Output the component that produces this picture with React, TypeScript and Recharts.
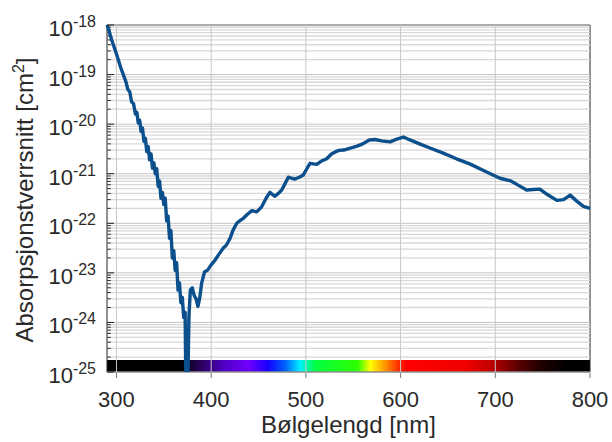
import { LineChart, Line, XAxis, YAxis, ReferenceLine, ReferenceArea } from "recharts";

// ── data ────────────────────────────────────────────────
const wavelengths = [
  290, 295, 300, 305, 310, 312, 314, 316, 318, 320, 321.5, 323, 324.5, 326, 327.5,
  329, 330.5, 332, 333.5, 335, 336.5, 338, 339.5, 341, 342.5, 344, 345.5, 347, 348.5,
  350, 351.5, 353, 354.5, 356, 357.5, 359, 360.5, 362, 363.5, 365, 366.5, 368, 369.5,
  371, 372.5, 373.5, 375, 376.5, 378, 380, 382, 384, 386, 388, 390, 393, 396, 400,
  404, 409, 413, 416, 420, 423, 427, 430, 434, 438, 443, 448, 453, 458, 462, 467,
  471, 474.5, 478, 481.5, 485, 488.6, 493, 497, 501, 504.4, 508, 511.4, 516, 522,
  527, 531, 535, 540, 547, 554, 560, 567, 573, 580, 589, 596, 603, 610, 620, 631,
  645, 659, 673, 687, 697, 705, 716, 725, 733, 740, 747, 755, 765, 772, 779, 786,
  793, 800,
];

const crossSections = [
  1.05e-18, 5.0e-19, 2.6e-19, 1.3e-19, 7.1e-20, 5.0e-20, 4.5e-20, 2.8e-20, 2.6e-20,
  1.6e-20, 1.74e-20, 1.05e-20, 1.2e-20, 7.1e-21, 8.3e-21, 4.5e-21, 5.2e-21, 2.8e-21,
  3.5e-21, 1.9e-21, 2.5e-21, 1.3e-21, 1.66e-21, 1.0e-21, 1.26e-21, 5.6e-22, 7.1e-22,
  3.2e-22, 4.2e-22, 2.4e-22, 3.2e-22, 1.12e-22, 1.4e-22, 5.0e-23, 7.1e-23, 2.0e-23,
  2.8e-23, 1.12e-23, 1.6e-23, 4.5e-24, 6.3e-24, 2.5e-24, 3.2e-24, 1.26e-24, 1.6e-24,
  2.5e-26, 2.5e-26, 1.3e-24, 4.5e-24, 5.0e-24, 3.5e-24, 3.0e-24, 2.1e-24, 3.2e-24,
  6.3e-24, 1.05e-23, 1.12e-23, 1.45e-23, 1.8e-23, 2.5e-23, 3.2e-23, 3.6e-23, 5.0e-23,
  7.2e-23, 1.0e-22, 1.12e-22, 1.26e-22, 1.5e-22, 1.8e-22, 1.7e-22, 2.1e-22, 3.2e-22,
  4.2e-22, 3.5e-22, 4.0e-22, 4.7e-22, 6.3e-22, 8.5e-22, 8.1e-22, 7.8e-22, 8.5e-22,
  9.3e-22, 1.26e-21, 1.62e-21, 1.58e-21, 1.55e-21, 1.78e-21, 2.0e-21, 2.5e-21,
  2.75e-21, 2.95e-21, 3.0e-21, 3.3e-21, 3.6e-21, 4.0e-21, 4.8e-21, 4.9e-21, 4.6e-21,
  4.4e-21, 5.0e-21, 5.5e-21, 4.8e-21, 4.0e-21, 3.3e-21, 2.6e-21, 2.0e-21, 1.58e-21,
  1.17e-21, 9.5e-22, 8.1e-22, 7.2e-22, 5.75e-22, 4.7e-22, 4.8e-22, 4.9e-22, 3.8e-22,
  2.9e-22, 3.0e-22, 3.7e-22, 2.8e-22, 2.2e-22, 2.0e-22,
];

const xTicks = [300, 400, 500, 600, 700, 800];
const xGridLines = [300, 400, 500, 600, 700];
const decadeExponents = [-25, -24, -23, -22, -21, -20, -19, -18];
const minorMultipliers = [2, 3, 4, 5, 6, 7, 8, 9];

// visible spectrum strip along the bottom: [wavelength, colour]
const spectrumStops: [number, string][] = [
  [290, "#000000"],
  [368, "#000000"],
  [390, "#2a0060"],
  [415, "#5200c8"],
  [440, "#7000ff"],
  [460, "#1400ff"],
  [478, "#0060ff"],
  [494, "#00f0ff"],
  [510, "#00ff40"],
  [555, "#30ff00"],
  [568, "#ffff00"],
  [582, "#ffa000"],
  [595, "#ff4000"],
  [606, "#ff0000"],
  [670, "#f00000"],
  [695, "#c00000"],
  [722, "#600000"],
  [748, "#200000"],
  [775, "#000000"],
  [800, "#000000"],
];

const X_MIN = 290;
const X_MAX = 800;
const Y_MIN = 1e-25;
const Y_MAX = 1e-18;
const STRIP_TOP = 1.75e-25;

const data = wavelengths.map((w, i) => ({ w, sigma: crossSections[i] }));
const decades = decadeExponents.map((e) => Math.pow(10, e));
const minorValues = decadeExponents
  .slice(0, -1)
  .flatMap((e) => minorMultipliers.map((m) => m * Math.pow(10, e)));

/* ── layout ───────────────────────────────────────────── */
const W = 612;
const H = 442;
const Y_AXIS_W = 107;
const PLOT_LEFT = Y_AXIS_W;
const PLOT_TOP = 25;
const PLOT_BOTTOM = 372;
const FONT = "'Liberation Sans', Arial, Helvetica, sans-serif";
const TEXT = "#2a2a2a";

function YTick({ y, payload }: any) {
  const exp = Math.round(Math.log10(payload.value));
  return (
    <g>
      <line x1={PLOT_LEFT} x2={PLOT_LEFT + 7} y1={y} y2={y} stroke="#222" />
      <text x={96} y={y + 11} textAnchor="end" fontSize={22} fill={TEXT} fontFamily={FONT}>
        10
        <tspan dy={-9} fontSize={16}>
          {exp}
        </tspan>
      </text>
    </g>
  );
}

function XTick({ x, payload }: any) {
  return (
    <g>
      <line x1={x} x2={x} y1={PLOT_BOTTOM + 1} y2={PLOT_BOTTOM + 6} stroke="#777" />
      <text x={x} y={PLOT_BOTTOM + 35} textAnchor="middle" fontSize={22} fill={TEXT} fontFamily={FONT}>
        {payload.value}
      </text>
    </g>
  );
}

function YLabel() {
  return (
    <text
      x={33}
      y={200}
      transform="rotate(-90, 33, 200)"
      textAnchor="middle"
      fontSize={24}
      fill={TEXT}
      fontFamily={FONT}
    >
      Absorpsjonstverrsnitt [cm
      <tspan dy={-9} fontSize={16}>
        2
      </tspan>
      <tspan dy={9}>]</tspan>
    </text>
  );
}

function XLabel() {
  return (
    <text x={(PLOT_LEFT + W - 22) / 2} y={433} textAnchor="middle" fontSize={24} fill={TEXT} fontFamily={FONT}>
      Bølgelengd [nm]
    </text>
  );
}

export default function App() {
  return (
    <div style={{ position: "absolute", left: 0, top: 0, width: W, height: H, background: "#fff" }}>
      <LineChart width={W} height={H} data={data} margin={{ top: PLOT_TOP, right: 22, bottom: 0, left: 0 }}>
        <defs>
          <linearGradient id="spectrum" x1="0" x2="1" y1="0" y2="0">
            {spectrumStops.map(([w, c]) => (
              <stop key={w} offset={(w - X_MIN) / (X_MAX - X_MIN)} stopColor={c} />
            ))}
          </linearGradient>
        </defs>

        <XAxis
          dataKey="w"
          type="number"
          domain={[X_MIN, X_MAX]}
          ticks={xTicks}
          interval={0}
          height={H - PLOT_BOTTOM}
          axisLine={false}
          tickLine={false}
          tick={<XTick />}
          label={<XLabel />}
        />
        <YAxis
          type="number"
          scale="log"
          domain={[Y_MIN, Y_MAX]}
          allowDataOverflow
          ticks={decades}
          interval={0}
          width={Y_AXIS_W}
          axisLine={false}
          tickLine={false}
          tick={<YTick />}
          label={<YLabel />}
        />

        {/* minor grid (log) */}
        {minorValues.map((v) => (
          <ReferenceLine key={`m${v}`} y={v} stroke="#d8d8d8" strokeWidth={1.3} />
        ))}
        {decades.map((v) => (
          <ReferenceLine key={`d${v}`} y={v} stroke="#c4c4c4" />
        ))}
        {xGridLines.map((v) => (
          <ReferenceLine key={`x${v}`} x={v} stroke="#c8c8c8" />
        ))}
        {/* minor ticks on the inside of the left axis */}
        {minorValues.map((v) => (
          <ReferenceLine
            key={`t${v}`}
            segment={[
              { x: X_MIN, y: v },
              { x: X_MIN + 4, y: v },
            ]}
            stroke="#333"
          />
        ))}

        <ReferenceArea
          x1={X_MIN}
          x2={X_MAX}
          y1={Y_MIN}
          y2={STRIP_TOP}
          fill="url(#spectrum)"
          fillOpacity={1}
          stroke="none"
        />

        <Line
          type="linear"
          dataKey="sigma"
          stroke="#0b4f8c"
          strokeWidth={3.4}
          strokeLinejoin="round"
          dot={false}
          isAnimationActive={false}
        />

        <ReferenceArea
          x1={X_MIN}
          x2={X_MAX}
          y1={Y_MIN}
          y2={Y_MAX}
          fill="none"
          stroke="#222"
          strokeWidth={1}
        />
      </LineChart>
    </div>
  );
}
